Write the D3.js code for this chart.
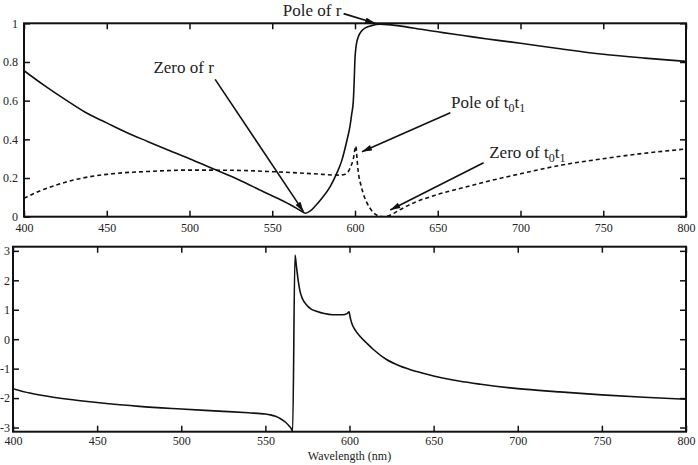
<!DOCTYPE html>
<html>
<head>
<meta charset="utf-8">
<script src="https://cdn.jsdelivr.net/npm/d3@7"></script>
<style>
  body { margin: 0; background: #fff; }
  text { font-family: "Liberation Serif", "Times New Roman", serif; fill: #222; }
</style>
</head>
<body>
<div id="chart"></div>
<script>
// |r| (solid) and |t0 t1| (dashed), top panel
var rWl  = [400, 412, 425, 437, 450, 462, 475, 487, 500, 515, 530, 545, 555, 562, 567, 570, 573, 576, 580, 585, 589, 592, 595, 597, 598, 599, 599.5, 600, 600.5, 601, 602, 604, 606, 610, 615, 620, 630, 640, 650, 660, 670, 680, 690, 700, 725, 750, 775, 800];
var rVal = [0.755, 0.68, 0.605, 0.54, 0.485, 0.435, 0.388, 0.345, 0.30, 0.245, 0.19, 0.128, 0.088, 0.057, 0.032, 0.018, 0.03, 0.055, 0.095, 0.155, 0.225, 0.29, 0.39, 0.47, 0.53, 0.60, 0.70, 0.82, 0.87, 0.90, 0.93, 0.96, 0.975, 0.988, 0.995, 0.993, 0.983, 0.969, 0.956, 0.943, 0.931, 0.919, 0.908, 0.897, 0.867, 0.84, 0.82, 0.803];

var tWl  = [400, 410, 420, 430, 440, 450, 460, 475, 500, 525, 550, 575, 590, 594, 597, 599, 600.5, 601.2, 602, 603.5, 605, 607, 609, 611, 613, 616, 618, 620, 624, 627, 635, 650, 662, 675, 700, 725, 750, 775, 800];
var tVal = [0.095, 0.135, 0.165, 0.19, 0.207, 0.219, 0.227, 0.234, 0.241, 0.24, 0.233, 0.222, 0.215, 0.22, 0.25, 0.30, 0.365, 0.30, 0.23, 0.165, 0.12, 0.075, 0.045, 0.022, 0.009, 0.001, 0.0, 0.004, 0.02, 0.035, 0.07, 0.115, 0.143, 0.172, 0.222, 0.267, 0.30, 0.328, 0.35];

// phase (rad), bottom panel
var phWl  = [400, 410, 425, 440, 450, 475, 500, 525, 540, 550, 553, 556, 559, 562, 564, 565.5, 566.2, 567.6, 568.5, 569.5, 570.5, 572, 574.4, 577, 580.4, 585, 590, 596, 598.5, 599.8, 600.2, 601.3, 603.5, 606.2, 610, 614.2, 622, 630, 640, 650, 665, 678, 700, 725, 750, 775, 800];
var phVal = [-1.68, -1.83, -1.98, -2.09, -2.15, -2.28, -2.37, -2.45, -2.50, -2.54, -2.57, -2.62, -2.70, -2.82, -2.94, -3.05, -3.14, 2.86, 2.45, 2.0, 1.65, 1.38, 1.17, 1.03, 0.95, 0.87, 0.83, 0.83, 0.87, 0.93, 0.80, 0.55, 0.30, 0.10, -0.12, -0.35, -0.69, -0.91, -1.10, -1.25, -1.42, -1.53, -1.68, -1.79, -1.89, -1.97, -2.04];

var xTicks = [400, 450, 500, 550, 600, 650, 700, 750, 800];
var yTopTicks = [0, 0.2, 0.4, 0.6, 0.8, 1];
var yBotTicks = [-3, -2, -1, 0, 1, 2, 3];

// annotations: label position, arrow start, arrow tip (data coords of top panel)
var annText  = ["Pole of r", "Zero of r", "Pole of t0t1", "Zero of t0t1"];
var annLabel = [[556.4, 1.04], [478.2, 0.741], [658, 0.56], [681.1, 0.302]];
var annFrom  = [[593.1, 1.05], [515.5, 0.71], [657.6, 0.538], [677.7, 0.279]];
var annTo    = [[612.2, 1.0], [568.9, 0.026], [604.2, 0.336], [621.3, 0.035]];

var W = 698, H = 465;
var svg = d3.select("#chart").append("svg")
    .attr("width", W)
    .attr("height", H);

svg.append("defs").append("marker")
    .attr("id", "arrow")
    .attr("viewBox", "0 0 10 6")
    .attr("refX", 10).attr("refY", 3)
    .attr("markerWidth", 11).attr("markerHeight", 6)
    .attr("markerUnits", "userSpaceOnUse")
    .attr("orient", "auto")
    .append("path")
    .attr("d", "M0,0 L10,3 L0,6 Z")
    .style("fill", "#111");

function panel(box, yDomain, yTickVals, yFmt, clipId, xPad, yPad) {
    var x = d3.scaleLinear().domain([400, 800]).range([box.left, box.right]);
    var y = d3.scaleLinear().domain(yDomain).range([box.bottom, box.top]);

    svg.append("clipPath").attr("id", clipId)
        .append("rect")
        .attr("x", box.left).attr("y", box.top)
        .attr("width", box.right - box.left).attr("height", box.bottom - box.top);

    svg.append("g")
        .attr("transform", "translate(0," + box.bottom + ")")
        .call(d3.axisBottom(x).tickValues(xTicks).tickSize(-6).tickPadding(xPad).tickFormat(d3.format("d")));
    svg.append("g")
        .attr("transform", "translate(0," + box.top + ")")
        .call(d3.axisTop(x).tickValues(xTicks).tickSize(-6).tickFormat(""));
    svg.append("g")
        .attr("transform", "translate(" + box.left + ",0)")
        .call(d3.axisLeft(y).tickValues(yTickVals).tickSize(-6).tickPadding(yPad).tickFormat(yFmt));
    svg.append("g")
        .attr("transform", "translate(" + box.right + ",0)")
        .call(d3.axisRight(y).tickValues(yTickVals).tickSize(-6).tickFormat(""));

    svg.selectAll(".domain").remove();
    svg.selectAll(".tick line").style("stroke", "#111").style("stroke-width", 1.5);
    svg.selectAll(".tick text").style("font-size", "12px").style("fill", "#222")
        .style("font-family", "'Liberation Serif', serif");

    svg.append("rect")
        .attr("x", box.left).attr("y", box.top)
        .attr("width", box.right - box.left).attr("height", box.bottom - box.top)
        .style("fill", "none").style("stroke", "#111").style("stroke-width", 2);

    return {x: x, y: y};
}

var topPanel = panel({left: 24, right: 686, top: 23.3, bottom: 216.7}, [0, 1], yTopTicks,
    d => String(d), "clipTop", 7, 6);
var botPanel = panel({left: 13, right: 686, top: 246.7, bottom: 431.7}, [-Math.PI, Math.PI], yBotTicks,
    d => (d < 0 ? "-" : "") + Math.abs(d), "clipBot", 5, 3);

function drawLine(sc, wl, vals, clipId, dash) {
    var pts = wl.map((w, i) => [w, vals[i]]);
    var line = d3.line()
        .x(d => sc.x(d[0]))
        .y(d => sc.y(d[1]))
        .curve(d3.curveMonotoneX);
    svg.append("path")
        .datum(pts)
        .attr("clip-path", "url(#" + clipId + ")")
        .attr("d", line)
        .style("fill", "none")
        .style("stroke", "#111")
        .style("stroke-width", 1.6)
        .style("stroke-dasharray", dash);
}

drawLine(topPanel, rWl, rVal, "clipTop", null);
drawLine(topPanel, tWl, tVal, "clipTop", "4,3");
drawLine(botPanel, phWl, phVal, "clipBot", null);

// annotations
annText.forEach((txt, i) => {
    svg.append("line")
        .attr("x1", topPanel.x(annFrom[i][0])).attr("y1", topPanel.y(annFrom[i][1]))
        .attr("x2", topPanel.x(annTo[i][0])).attr("y2", topPanel.y(annTo[i][1]))
        .style("stroke", "#111").style("stroke-width", 1.6)
        .attr("marker-end", "url(#arrow)");

    var t = svg.append("text")
        .attr("x", topPanel.x(annLabel[i][0]))
        .attr("y", topPanel.y(annLabel[i][1]))
        .style("font-size", "17px");
    if (txt.indexOf("t0t1") < 0) {
        t.text(txt);
    } else {
        t.append("tspan").text(txt.replace("t0t1", "") + " t");
        t.append("tspan").attr("dy", 4).style("font-size", "12px").text("0");
        t.append("tspan").attr("dy", -4).text("t");
        t.append("tspan").attr("dy", 4).style("font-size", "12px").text("1");
    }
});

svg.append("text")
    .attr("x", botPanel.x(600))
    .attr("y", 460)
    .attr("text-anchor", "middle")
    .style("font-size", "12px")
    .text("Wavelength (nm)");
</script>
</body>
</html>
